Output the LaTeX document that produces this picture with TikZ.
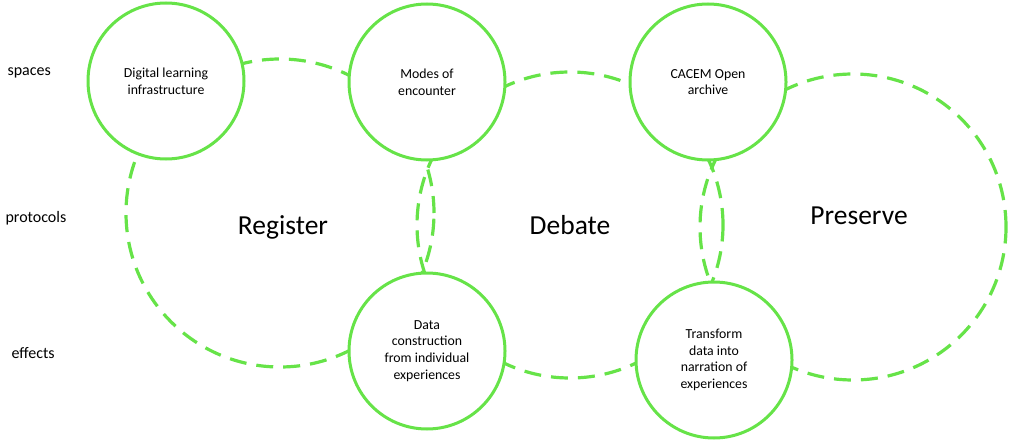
\documentclass[tikz,border=0pt]{standalone}
\usepackage{fontspec}
\setmainfont{Carlito}
\definecolor{lgreen}{RGB}{102,227,72}
\begin{document}
\begin{tikzpicture}[x=1pt,y=-1pt,
  solidc/.style={circle,draw=lgreen,line width=3pt,fill=white,minimum size=156pt,inner sep=0pt,align=center,font=\fontsize{13.8}{16.7}\selectfont},
  dashc/.style={circle,draw=lgreen,line width=3.2pt,dash pattern=on 17pt off 10pt,inner sep=0pt},
  sidelab/.style={anchor=west,font=\fontsize{16}{18}\selectfont},
  biglab/.style={anchor=base,font=\fontsize{27.5}{30}\selectfont}]
\useasboundingbox (0,0) rectangle (1016,441);
% dashed cycles
\node[dashc,minimum size=308pt] (reg) at (280,213) {};
\node[dashc,minimum size=306pt] (deb) at (570,225) {};
\node[dashc,minimum size=306pt] (pre) at (853,227) {};
% solid circles
\node[solidc] (dli) at (166,81) {Digital learning\\infrastructure};
\node[solidc] (moe) at (427,82) {Modes of\\encounter};
\node[solidc] (cac) at (708,82) {CACEM Open\\archive};
\node[solidc] (dat) at (427,351) {Data\\construction\\from individual\\experiences};
\node[solidc] (tra) at (714,360) {Transform\\data into\\narration of\\experiences};
% side labels
\node[sidelab] (sp) at (4,73) {spaces};
\node[sidelab] (pr) at (2,218) {protocols};
\node[sidelab] (ef) at (8,353) {effects};
% big labels
\node[biglab] (lr) at (283,234) {Register};
\node[biglab] (ld) at (570,234) {Debate};
\node[biglab] (lp) at (859,224) {Preserve};
\end{tikzpicture}
\end{document}
